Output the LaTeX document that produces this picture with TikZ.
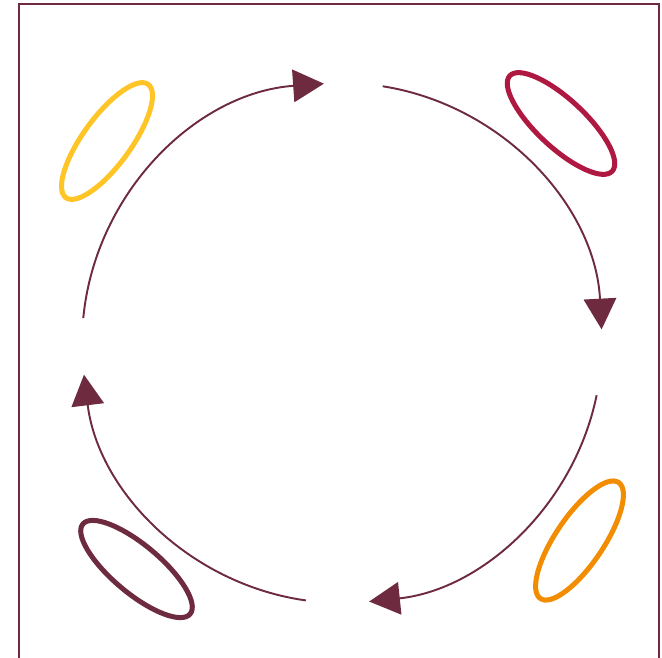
\documentclass[tikz,border=0pt]{standalone}
\usepackage{xcolor}
\usepackage{tikz}
\usetikzlibrary{arrows.meta}
\definecolor{cymaroon}{HTML}{6E2A3F}
\definecolor{cyred}{HTML}{AE1841}
\definecolor{cyyellow}{HTML}{FFC425}
\definecolor{cyorange}{HTML}{F28C00}
\begin{document}
\begin{tikzpicture}[x=0.02cm,y=0.02cm]
\useasboundingbox (0,0) rectangle (662,657);
\draw[cymaroon,line width=1pt] (19,-2) -- (19,653) -- (659,653) -- (659,-2);
\coordinate (c) at (342,314);
\foreach \a/\b in {174.5/94, 81/3, -11.6/-84, -98/-173} {
  \draw[cymaroon,line width=1.1pt,-{Triangle[length=17.5pt,width=18.5pt]}]
    (c) ++(\a:5.2cm) arc[start angle=\a,end angle=\b,radius=5.2cm];
}
\foreach \col/\x/\y/\r in {cyyellow/107/516/54, cyred/561/533.5/-43, cyorange/579.5/116.5/56, cymaroon/136.5/88/-40} {
  \draw[\col,line width=2.85pt,rotate around={\r:(\x,\y)}] (\x,\y) ellipse[x radius=1.4cm,y radius=0.48cm];
}
\end{tikzpicture}
\end{document}
